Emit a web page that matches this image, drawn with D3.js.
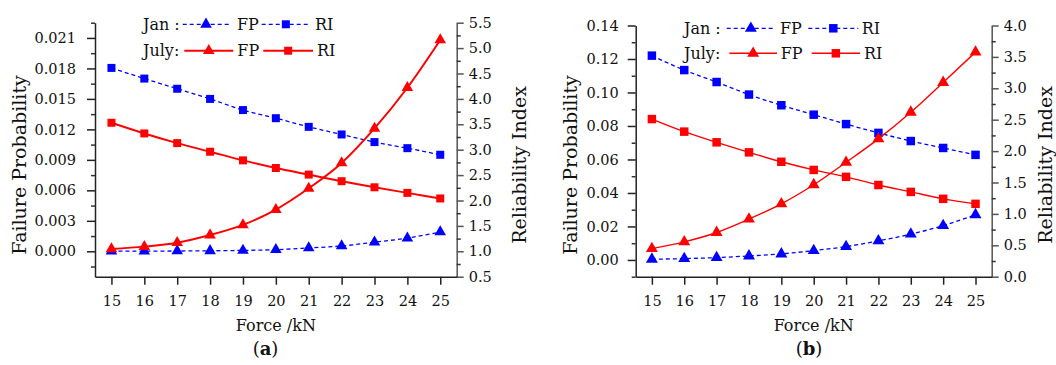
<!DOCTYPE html>
<html>
<head>
<meta charset="utf-8">
<script src="https://cdn.jsdelivr.net/npm/d3@7"></script>
<style>
  html, body { margin: 0; padding: 0; background: #fff; }
  svg { display: block; font-family: "DejaVu Serif", "Liberation Serif", serif; }
</style>
</head>
<body>
<svg id="chart" width="1056" height="365"></svg>
<script>
// Applied force (kN) shared by both panels
const forces = [15, 16, 17, 18, 19, 20, 21, 22, 23, 24, 25];

// Panel (a)
const aJanFP  = [0.00001, 0.00002, 0.00003, 0.00005, 0.00009, 0.00016, 0.00033, 0.00052, 0.0009, 0.0013, 0.0019];
const aJulyFP = [0.00023, 0.00046, 0.00085, 0.0016, 0.0026, 0.0041, 0.0062, 0.0087, 0.0121, 0.0161, 0.0208];
const aJanRI  = [4.61, 4.40, 4.20, 4.00, 3.78, 3.62, 3.45, 3.30, 3.15, 3.03, 2.90];
const aJulyRI = [3.53, 3.32, 3.13, 2.96, 2.79, 2.64, 2.51, 2.38, 2.26, 2.15, 2.04];

// Panel (b)
const bJanFP  = [0.0004, 0.0008, 0.0014, 0.0024, 0.0036, 0.0056, 0.0080, 0.0114, 0.0154, 0.0205, 0.0270];
const bJulyFP = [0.0068, 0.0108, 0.0164, 0.0244, 0.0335, 0.0449, 0.0583, 0.0723, 0.0882, 0.1060, 0.1241];
const bJanRI  = [3.52, 3.29, 3.10, 2.90, 2.73, 2.58, 2.43, 2.29, 2.16, 2.05, 1.94];
const bJulyRI = [2.51, 2.31, 2.14, 1.98, 1.83, 1.70, 1.59, 1.46, 1.35, 1.24, 1.16];

// Axis ticks
const aFPTicks = [0.000, 0.003, 0.006, 0.009, 0.012, 0.015, 0.018, 0.021];
const aRITicks = [0.5, 1.0, 1.5, 2.0, 2.5, 3.0, 3.5, 4.0, 4.5, 5.0, 5.5];
const bFPTicks = [0.00, 0.02, 0.04, 0.06, 0.08, 0.10, 0.12, 0.14];
const bRITicks = [0.0, 0.5, 1.0, 1.5, 2.0, 2.5, 3.0, 3.5, 4.0];

// Legend text
const monthLabels = ["Jan :", "July:"];
const seriesLabels = ["FP", "RI"];

const BLUE = "#0000ff", RED = "#ff0000";
const svg = d3.select("#chart");

function drawPanel(cfg) {
  const g = svg.append("g");
  const x = d3.scaleLinear().domain([14.5, 25.5]).range([cfg.left, cfg.right]);
  const yL = d3.scaleLinear().domain(cfg.fpDomain).range([cfg.bottom, cfg.top]);
  const yR = d3.scaleLinear().domain(cfg.riDomain).range([cfg.bottom, cfg.top]);

  // minor ticks (midpoints between majors, inside the domain)
  const minor = (ticks, dom) => {
    const step = ticks[1] - ticks[0];
    const out = [];
    for (let v = ticks[0] - step / 2; v <= dom[1] + 1e-9; v += step) {
      if (v >= dom[0] - 1e-9) out.push(+v.toFixed(6));
    }
    return out;
  };

  // left axis
  const axL = g.append("g").attr("transform", `translate(${cfg.left},0)`)
    .call(d3.axisLeft(yL).tickValues(cfg.fpTicks).tickFormat(d3.format(cfg.fpFmt))
      .tickSize(8).tickPadding(cfg.leftPad).tickSizeOuter(0));
  g.append("g").attr("transform", `translate(${cfg.left},0)`)
    .call(d3.axisLeft(yL).tickValues(minor(cfg.fpTicks, cfg.fpDomain)).tickFormat("").tickSize(4).tickSizeOuter(0))
    .call(s => s.select(".domain").remove());

  // right axis
  const axR = g.append("g").attr("transform", `translate(${cfg.right},0)`)
    .call(d3.axisRight(yR).tickValues(cfg.riTicks).tickFormat(d3.format(".1f"))
      .tickSize(7).tickPadding(5).tickSizeOuter(0));
  g.append("g").attr("transform", `translate(${cfg.right},0)`)
    .call(d3.axisRight(yR).tickValues(minor(cfg.riTicks, cfg.riDomain)).tickFormat("").tickSize(4).tickSizeOuter(0))
    .call(s => s.select(".domain").remove());

  // bottom axis
  const axB = g.append("g").attr("transform", `translate(0,${cfg.bottom})`)
    .call(d3.axisBottom(x).tickValues(forces).tickFormat(d3.format("d"))
      .tickSize(8).tickPadding(11).tickSizeOuter(0));

  [axL, axB].forEach(a => {
    a.selectAll("path,line").attr("stroke", "#222").attr("stroke-width", 1.5);
  });
  g.selectAll("g .tick line").attr("stroke-width", 1.5);
  axR.selectAll("path,line").attr("stroke", "#555").attr("stroke-width", 1.5);
  g.selectAll(".tick line").attr("stroke", function () { return d3.select(this).attr("stroke") === "currentColor" ? "#333" : d3.select(this).attr("stroke"); });
  g.selectAll(".tick text").attr("font-family", "DejaVu Serif").attr("font-size", 14.5).attr("fill", "#111");

  // axis titles
  g.append("text").attr("transform", `translate(${cfg.fpLabelX},${cfg.labelY}) rotate(-90)`)
    .attr("text-anchor", "middle").attr("dy", "0.35em").attr("font-size", 19).attr("fill", "#111")
    .text("Failure Probability");
  g.append("text").attr("transform", `translate(${cfg.riLabelX},${cfg.labelY}) rotate(-90)`)
    .attr("text-anchor", "middle").attr("dy", "0.35em").attr("font-size", 19).attr("fill", "#111")
    .text("Reliability Index");
  g.append("text").attr("x", (cfg.left + cfg.right) / 2).attr("y", 331)
    .attr("text-anchor", "middle").attr("font-size", 16).attr("fill", "#111")
    .text("Force /kN");
  const cap = g.append("text").attr("x", cfg.capX).attr("y", 355)
    .attr("text-anchor", "middle").attr("font-size", 18).attr("fill", "#111");
  cap.append("tspan").text("(");
  cap.append("tspan").attr("font-weight", "bold").text(cfg.cap);
  cap.append("tspan").text(")");

  // series
  const series = [
    { vals: cfg.janRI, y: yR, color: BLUE, dash: "4,3", w: 1.3, sym: d3.symbolSquare, size: cfg.sqSize },
    { vals: cfg.julyRI, y: yR, color: RED, dash: null, w: cfg.redW, sym: d3.symbolSquare, size: cfg.sqSize },
    { vals: cfg.janFP, y: yL, color: BLUE, dash: "4,3", w: 1.3, sym: d3.symbolTriangle, size: cfg.triSize },
    { vals: cfg.julyFP, y: yL, color: RED, dash: null, w: cfg.redW, sym: d3.symbolTriangle, size: cfg.triSize }
  ];
  series.forEach(s => {
    const pts = forces.map((f, i) => [x(f), s.y(s.vals[i])]);
    g.append("path").attr("d", d3.line().curve(d3.curveMonotoneX)(pts))
      .attr("fill", "none").attr("stroke", s.color).attr("stroke-width", s.w)
      .attr("stroke-dasharray", s.dash);
    g.selectAll(null).data(pts).join("path")
      .attr("transform", d => `translate(${d[0]},${d[1]})`)
      .attr("d", d3.symbol().type(s.sym).size(s.size)())
      .attr("fill", s.color);
  });

  // legend
  const lg = cfg.legend;
  lg.rows.forEach((r, ri) => {
    const color = ri === 0 ? BLUE : RED;
    const dash = ri === 0 ? "4,3" : null;
    const w = ri === 0 ? 1.3 : cfg.redW;
    g.append("text").attr("x", lg.x).attr("y", r.y).attr("dy", "0.35em")
      .attr("font-size", 16).attr("fill", "#111").text(monthLabels[ri]);
    [[r.a, d3.symbolTriangle, cfg.triSize, seriesLabels[0]], [r.b, d3.symbolSquare, cfg.sqSize, seriesLabels[1]]]
      .forEach(([seg, sym, size, label]) => {
        g.append("line").attr("x1", seg[0]).attr("x2", seg[1]).attr("y1", r.y).attr("y2", r.y)
          .attr("stroke", color).attr("stroke-width", w).attr("stroke-dasharray", dash);
        g.append("path").attr("transform", `translate(${(seg[0] + seg[1]) / 2},${r.y})`)
          .attr("d", d3.symbol().type(sym).size(size)()).attr("fill", color);
        g.append("text").attr("x", seg[2]).attr("y", r.y).attr("dy", "0.35em")
          .attr("font-size", 16).attr("fill", "#111").text(label);
      });
  });
}

drawPanel({
  left: 95, right: 456.7, top: 22.7, bottom: 276.7,
  fpDomain: [-0.0025, 0.0225], riDomain: [0.5, 5.5],
  fpTicks: aFPTicks, riTicks: aRITicks, fpFmt: ".3f", leftPad: 11,
  janFP: aJanFP, julyFP: aJulyFP, janRI: aJanRI, julyRI: aJulyRI,
  fpLabelX: 19, riLabelX: 519, labelY: 165, capX: 265.5, cap: "a",
  redW: 2, sqSize: 64, triSize: 58,
  legend: { x: 143, rows: [
    { y: 24.3, a: [182.7, 229.3, 237], b: [261.7, 310, 315] },
    { y: 50.7, a: [184.3, 233.3, 237.3], b: [263.3, 313, 317] }
  ] }
});

drawPanel({
  left: 635.7, right: 991.7, top: 25.5, bottom: 276.7,
  fpDomain: [-0.01, 0.14], riDomain: [0, 4],
  fpTicks: bFPTicks, riTicks: bRITicks, fpFmt: ".2f", leftPad: 9,
  janFP: bJanFP, julyFP: bJulyFP, janRI: bJanRI, julyRI: bJulyRI,
  fpLabelX: 570, riLabelX: 1045, labelY: 165, capX: 809, cap: "b",
  redW: 1.4, sqSize: 72, triSize: 62,
  legend: { x: 684, rows: [
    { y: 28.3, a: [726.7, 775, 780], b: [808.3, 858.3, 861.7] },
    { y: 53.3, a: [729.3, 777, 780.7], b: [811.7, 860, 864] }
  ] }
});
</script>
</body>
</html>
